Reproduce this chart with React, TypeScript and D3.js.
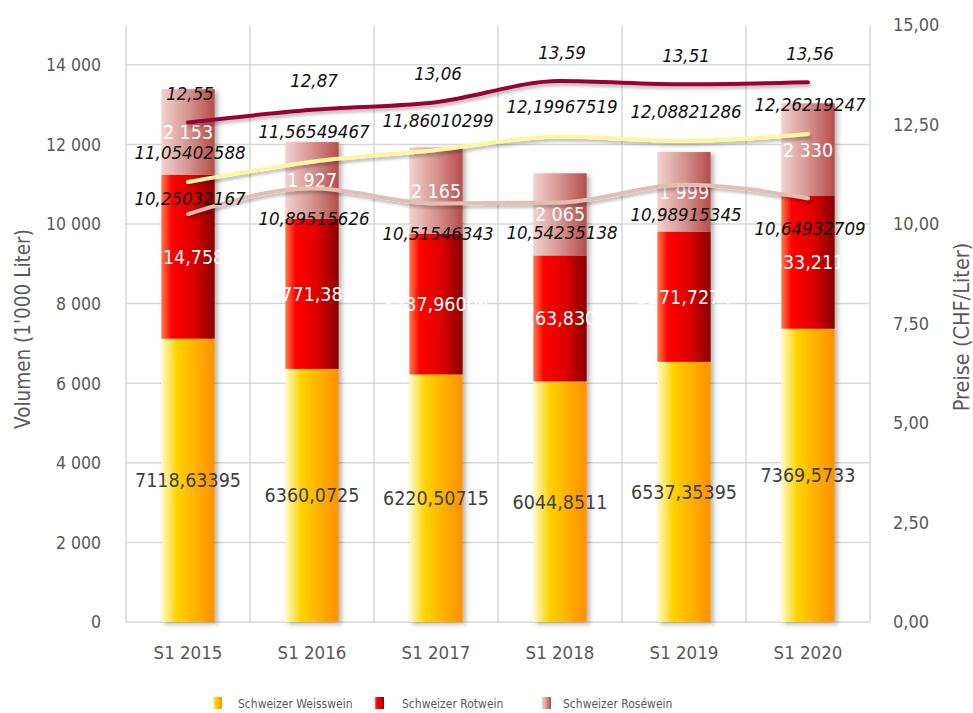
import React from "react";
import * as d3 from "d3";

const categories = ["S1 2015", "S1 2016", "S1 2017", "S1 2018", "S1 2019", "S1 2020"];
const weisswein = [7118.63395, 6360.0725, 6220.50715, 6044.8511, 6537.35395, 7369.5733];
const rotwein = [4114.7582, 3771.385, 3537.96006, 3163.8309, 3271.7274, 3333.2112];
const rosewein = [2153, 1927, 2165, 2065, 1999, 2330];
const preisRot = [12.55, 12.87, 13.06, 13.59, 13.51, 13.56];
const preisWeiss = [11.05402588, 11.56549467, 11.86010299, 12.19967519, 12.08821286, 12.26219247];
const preisRose = [10.25032167, 10.89515626, 10.51546343, 10.54235138, 10.98915345, 10.64932709];
const leftTicks = [0, 2000, 4000, 6000, 8000, 10000, 12000, 14000];
const rightTicks = [0, 2.5, 5, 7.5, 10, 12.5, 15];
const legendLabels = ["Schweizer Weisswein", "Schweizer Rotwein", "Schweizer Roséwein"];

const W = 973, H = 713;
const L = 126, R = 870, T = 25, B = 622;
const COND = "'DejaVu Sans Condensed', 'DejaVu Sans', sans-serif";
const GRAY = "#595959";

const thousand = (v: number) => d3.format(",")(v).replace(/,/g, " ");
const dec = (v: number) => String(v).replace(".", ",");
const dec2 = (v: number) => d3.format(".2f")(v).replace(".", ",");

export default function App() {
  const x = d3.scaleBand<string>().domain(categories).range([L, R]).padding(0);
  const yL = d3.scaleLinear().domain([0, 15000]).range([B, T]);
  const yR = d3.scaleLinear().domain([0, 15]).range([B, T]);
  const bw = x.bandwidth() * 0.43;
  const cx = (c: string) => (x(c) as number) + x.bandwidth() / 2;

  const line = d3
    .line<number>()
    .x((_, i) => cx(categories[i]))
    .y((d) => yR(d))
    .curve(d3.curveMonotoneX);

  const lines = [
    { data: preisRose, color: "#e6bdb3", off: (i: number) => (i === 0 ? -16 : 30) },
    { data: preisWeiss, color: "#fdf7a0", off: () => -30 },
    { data: preisRot, color: "#9c0033", off: () => -29 },
  ];

  const bounds = d3.range(categories.length + 1).map((i) => L + i * x.bandwidth());

  return (
    <svg width={W} height={H} style={{ display: "block", position: "absolute", left: 0, top: 0 }}>
      <defs>
        <linearGradient id="gW" x1="0" x2="1" y1="0" y2="0">
          <stop offset="0" stopColor="#fffbc8" />
          <stop offset="0.3" stopColor="#ffd200" />
          <stop offset="0.65" stopColor="#ffb000" />
          <stop offset="1" stopColor="#ff9000" />
        </linearGradient>
        <linearGradient id="gR" x1="0" x2="1" y1="0" y2="0">
          <stop offset="0" stopColor="#ff7a4a" />
          <stop offset="0.2" stopColor="#ff0000" />
          <stop offset="0.6" stopColor="#dd0000" />
          <stop offset="1" stopColor="#880000" />
        </linearGradient>
        <linearGradient id="gP" x1="0" x2="1" y1="0" y2="0">
          <stop offset="0" stopColor="#f2d2cf" />
          <stop offset="0.5" stopColor="#d59490" />
          <stop offset="1" stopColor="#b64c4c" />
        </linearGradient>
        <filter id="sh" x="-30%" y="-10%" width="160%" height="130%">
          <feDropShadow dx="3" dy="2" stdDeviation="2.5" floodColor="#000" floodOpacity="0.3" />
        </filter>
        <filter id="shL" x="-10%" y="-50%" width="120%" height="200%">
          <feDropShadow dx="2" dy="3" stdDeviation="1.5" floodColor="#000" floodOpacity="0.25" />
        </filter>
      </defs>

      {/* grid */}
      <g stroke="#d9d9d9" strokeWidth={1.5}>
        {leftTicks.map((t) => (
          <line key={t} x1={L} x2={R} y1={yL(t)} y2={yL(t)} />
        ))}
        {bounds.map((b, i) => (
          <line key={i} x1={b} x2={b} y1={T} y2={B} />
        ))}
      </g>

      {/* bars */}
      {categories.map((c, i) => {
        const x0 = cx(c) - bw / 2;
        const w1 = weisswein[i], r1 = w1 + rotwein[i], p1 = r1 + rosewein[i];
        return (
          <g key={c} filter="url(#sh)">
            <rect x={x0} width={bw} y={yL(w1)} height={yL(0) - yL(w1)} fill="url(#gW)" />
            <rect x={x0} width={bw} y={yL(r1)} height={yL(w1) - yL(r1)} fill="url(#gR)" />
            <rect x={x0} width={bw} y={yL(p1)} height={yL(r1) - yL(p1)} fill="url(#gP)" />
          </g>
        );
      })}

      {/* bar labels */}
      {categories.map((c, i) => {
        const w1 = weisswein[i], r1 = w1 + rotwein[i], p1 = r1 + rosewein[i];
        const X = cx(c);
        return (
          <g key={c} textAnchor="middle" fontFamily={COND} fontSize={19.5}>
            <text x={X} y={(yL(0) + yL(w1)) / 2} dy="0.36em" fill="#404040">
              {dec(weisswein[i])}
            </text>
            <text x={X} y={(yL(w1) + yL(r1)) / 2} dy="0.36em" fill="#fff">
              {dec(rotwein[i])}
            </text>
            <text x={X} y={(yL(r1) + yL(p1)) / 2} dy="0.36em" fill="#fff">
              {thousand(rosewein[i])}
            </text>
          </g>
        );
      })}

      {/* lines */}
      {lines.map((l, k) => (
        <path key={k} d={line(l.data) as string} fill="none" stroke={l.color} strokeWidth={4} strokeLinecap="round" filter="url(#shL)" />
      ))}

      {/* line labels */}
      {lines.map((l, k) => (
        <g key={k} fontFamily={COND} fontStyle="italic" fontSize={18.5} fill="#111" textAnchor="middle">
          {l.data.map((v, i) => (
            <text key={i} x={cx(categories[i]) + 2} y={yR(v) + l.off(i)} dy="0.36em">
              {dec(v)}
            </text>
          ))}
        </g>
      ))}

      {/* left axis */}
      <g fontFamily={COND} fontSize={17.5} fill={GRAY} textAnchor="end">
        {leftTicks.map((t) => (
          <text key={t} x={101} y={yL(t)} dy="0.36em">
            {thousand(t)}
          </text>
        ))}
      </g>
      <text transform={`translate(23,329) rotate(-90)`} textAnchor="middle" dy="0.36em" fontFamily={COND} fontSize={20.5} fill={GRAY}>
        Volumen (1'000 Liter)
      </text>

      {/* right axis */}
      <g fontFamily={COND} fontSize={18} fill={GRAY} textAnchor="start">
        {rightTicks.map((t) => (
          <text key={t} x={893} y={yR(t)} dy="0.36em">
            {dec2(t)}
          </text>
        ))}
      </g>
      <text transform={`translate(961,327) rotate(-90)`} textAnchor="middle" dy="0.36em" fontFamily={COND} fontSize={21.5} fill={GRAY}>
        Preise (CHF/Liter)
      </text>

      {/* x axis */}
      <g fontFamily={COND} fontSize={18.5} fill={GRAY} textAnchor="middle">
        {categories.map((c) => (
          <text key={c} x={cx(c)} y={652} dy="0.36em">
            {c}
          </text>
        ))}
      </g>

      {/* legend */}
      {legendLabels.map((lab, i) => {
        const sx = [213, 375, 542][i];
        const tx = [238, 402, 563][i];
        const fills = ["url(#gW)", "url(#gR)", "url(#gP)"];
        return (
          <g key={lab}>
            <rect x={sx} y={697} width={9} height={12} fill={fills[i]} />
            <text x={tx} y={704} dy="0.36em" fontFamily={COND} fontSize={12} fill={GRAY}>
              {lab}
            </text>
          </g>
        );
      })}
    </svg>
  );
}
